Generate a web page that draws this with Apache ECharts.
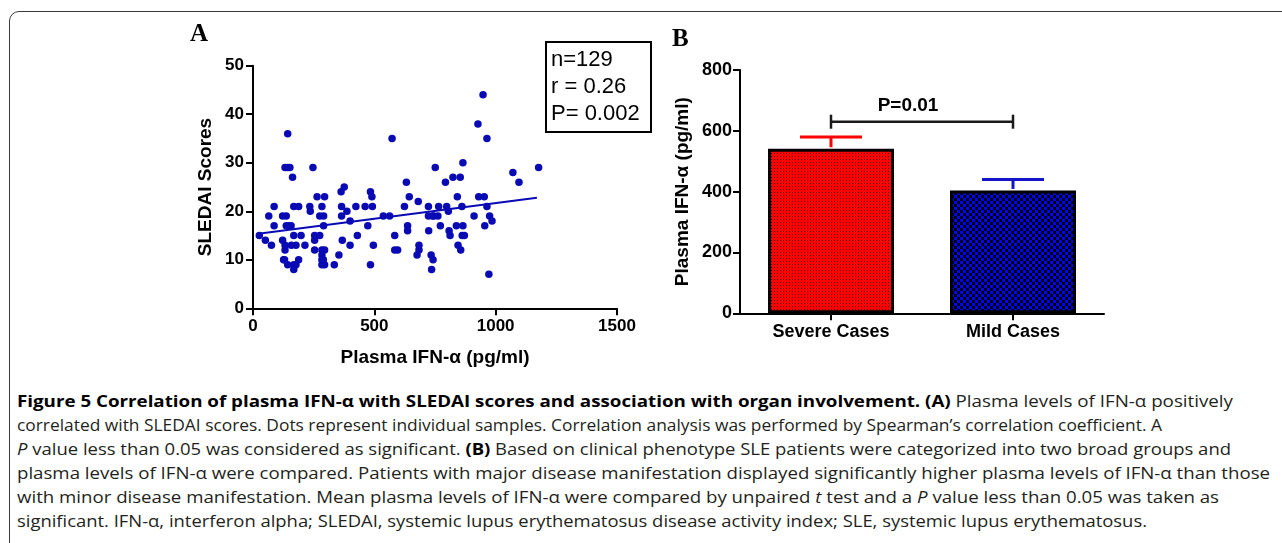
<!DOCTYPE html>
<html><head><meta charset="utf-8">
<script src="https://cdn.jsdelivr.net/npm/echarts@6/dist/echarts.min.js"></script>
<style>
html,body{margin:0;padding:0;background:#fff;width:1282px;height:543px;overflow:hidden;position:relative;}
#frame{position:absolute;left:9px;top:11px;width:1400px;height:700px;border:1.5px solid #3a3a3a;border-radius:10px;box-sizing:border-box;}
#chart{position:absolute;left:0;top:0;width:1282px;height:380px;}
#caption{position:absolute;left:17px;top:389px;font-family:"Open Sans",sans-serif;font-size:16px;line-height:24px;color:#231f20;white-space:nowrap;}
#caption .ln{transform-origin:0 0;width:max-content;}
#caption b{color:#000;}
</style></head>
<body>
<div id="frame"></div>
<div id="chart"></div>
<div id="caption">
<div class="ln"><b>Figure 5 Correlation of plasma IFN-α with SLEDAI scores and association with organ involvement. (A)</b> Plasma levels of IFN-α positively</div>
<div class="ln">correlated with SLEDAI scores. Dots represent individual samples. Correlation analysis was performed by Spearman’s correlation coefficient. A</div>
<div class="ln"><i>P</i> value less than 0.05 was considered as significant. <b>(B)</b> Based on clinical phenotype SLE patients were categorized into two broad groups and</div>
<div class="ln">plasma levels of IFN-α were compared. Patients with major disease manifestation displayed significantly higher plasma levels of IFN-α than those</div>
<div class="ln">with minor disease manifestation. Mean plasma levels of IFN-α were compared by unpaired <i>t</i> test and a <i>P</i> value less than 0.05 was taken as</div>
<div class="ln">significant. IFN-α, interferon alpha; SLEDAI, systemic lupus erythematosus disease activity index; SLE, systemic lupus erythematosus.</div>
</div>
<script>
// ---- Panel A data ----
const ifnValues = [26,51,65,76,87,87,122,137,122,132,132,126,143,143,132,152,143,137,147,157,163,168,188,168,168,168,177,177,188,198,214,234,236,247,254,254,254,264,275,275,284,284,284,284,284,295,291,291,295,295,335,354,363,376,365,365,368,387,400,400,424,430,462,473,484,490,492,484,496,537,563,573,584,584,596,624,632,637,637,644,681,684,676,684,723,724,723,734,742,736,751,745,762,765,772,793,798,805,808,812,824,838,842,845,854,856,861,862,865,865,871,911,927,930,948,953,955,964,964,975,985,972,1071,1096,1177,158,130,740,290];
const sledaiScores = [15,14,19,13,21,17,19,19,14,13,12,10,9,29,29,29,36,17,17,17,27,21,21,15,9,8,13,9,10,15,13,21,20,29,15,14,12,23,15,19,21,12,11,10,9,23,19,17,9,12,9,11,24,25,21,19,14,20,18,13,21,15,21,17,24,23,21,9,13,19,19,35,15,12,12,21,26,17,16,23,22,13,11,12,21,16,19,11,10,8,29,19,19,21,17,26,21,20,16,15,27,17,23,13,27,12,21,15,30,17,15,19,38,23,44,23,17,35,21,19,18,7,28,26,29,13,10,19,10];
const fitX = [30, 1170];
const fitY = [15.4, 22.8];
const statLines = ['n=129', 'r = 0.26', 'P= 0.002'];

// ---- Panel B data ----
const groups = ['Severe Cases', 'Mild Cases'];
const groupMeans = [541, 404];
const groupUpper = [580, 440];
const pLabel = 'P=0.01';
const bracketLevel = 630;

const FONT = 'Arial, "Liberation Sans", sans-serif';
const SERIF = '"Times New Roman", "Liberation Serif", serif';
const DOT = '#0a0ab4';
const RED = '#ff0000';
const BLUE = '#1414c8';

function dotTile(bg, fg, size, dot) {
  const cv = document.createElement('canvas');
  cv.width = cv.height = size;
  const ctx = cv.getContext('2d');
  ctx.fillStyle = bg; ctx.fillRect(0, 0, size, size);
  ctx.fillStyle = fg; ctx.fillRect(0, 0, dot, dot);
  return cv;
}
function checker(c1, c2, cell) {
  const cv = document.createElement('canvas');
  cv.width = cv.height = cell * 2;
  const ctx = cv.getContext('2d');
  ctx.fillStyle = c1; ctx.fillRect(0, 0, cell * 2, cell * 2);
  ctx.fillStyle = c2; ctx.fillRect(0, 0, cell, cell); ctx.fillRect(cell, cell, cell, cell);
  return cv;
}
const redPat = { image: dotTile('#ff0000', '#500000', 3, 1), repeat: 'repeat' };
const bluePat = { image: checker('#0000ff', '#000000', 3), repeat: 'repeat' };

const axisLineStyle = { show: true, lineStyle: { color: '#000', width: 2 } };
const tickStyle = { show: true, length: 7, lineStyle: { color: '#000', width: 2 } };
const plain = v => String(v);

const chart = echarts.init(document.getElementById('chart'), null, { renderer: 'canvas' });
chart.setOption({
  animation: false,
  backgroundColor: 'transparent',
  textStyle: { fontFamily: FONT },
  grid: [
    { left: 253, top: 65.7, width: 364, height: 242.6 },
    { left: 740, top: 70, width: 364, height: 243.3 }
  ],
  xAxis: [
    { type: 'value', gridIndex: 0, min: 0, max: 1500, interval: 500,
      axisLine: axisLineStyle, axisTick: tickStyle, splitLine: { show: false },
      axisLabel: { color: '#000', fontSize: 17, fontWeight: 'bold', margin: 10, fontFamily: FONT, formatter: plain },
      name: 'Plasma IFN-α (pg/ml)', nameLocation: 'middle', nameGap: 40,
      nameTextStyle: { color: '#000', fontSize: 19, fontWeight: 'bold', fontFamily: FONT } },
    { type: 'category', gridIndex: 1, data: groups,
      axisLine: axisLineStyle, axisTick: Object.assign({ alignWithLabel: true }, tickStyle),
      axisLabel: { color: '#000', fontSize: 18, fontWeight: 'bold', margin: 10, fontFamily: FONT } }
  ],
  yAxis: [
    { type: 'value', gridIndex: 0, min: 0, max: 50, interval: 10,
      axisLine: axisLineStyle, axisTick: tickStyle, splitLine: { show: false },
      axisLabel: { color: '#000', fontSize: 17, fontWeight: 'bold', margin: 9, fontFamily: FONT, formatter: plain },
      name: 'SLEDAI Scores', nameLocation: 'middle', nameGap: 38,
      nameTextStyle: { color: '#000', fontSize: 19, fontWeight: 'bold', fontFamily: FONT } },
    { type: 'value', gridIndex: 1, min: 0, max: 800, interval: 200,
      axisLine: axisLineStyle, axisTick: tickStyle, splitLine: { show: false },
      axisLabel: { color: '#000', fontSize: 18, fontWeight: 'bold', margin: 8, fontFamily: FONT, formatter: plain },
      name: 'Plasma IFN-α (pg/ml)', nameLocation: 'middle', nameGap: 48,
      nameTextStyle: { color: '#000', fontSize: 19, fontWeight: 'bold', fontFamily: FONT } }
  ],
  graphic: [
    { type: 'text', left: 190, top: 22, style: { text: 'A', font: 'bold 25px ' + SERIF, fill: '#000' } },
    { type: 'text', left: 672, top: 27, style: { text: 'B', font: 'bold 25px ' + SERIF, fill: '#000' } },
    { type: 'rect', shape: { x: 546, y: 42, width: 105, height: 90 }, style: { fill: 'none', stroke: '#000', lineWidth: 2 } },
    { type: 'text', x: 551, y: 60, style: { text: statLines[0], font: '22px ' + FONT, fill: '#000', verticalAlign: 'middle' } },
    { type: 'text', x: 551, y: 87, style: { text: statLines[1], font: '22px ' + FONT, fill: '#000', verticalAlign: 'middle' } },
    { type: 'text', x: 551, y: 114, style: { text: statLines[2], font: '22px ' + FONT, fill: '#000', verticalAlign: 'middle' } }
  ],
  series: [
    { type: 'scatter', xAxisIndex: 0, yAxisIndex: 0, symbolSize: 7.5,
      itemStyle: { color: DOT, opacity: 1 }, data: ifnValues.map((v, i) => [v, sledaiScores[i]]) },
    { type: 'line', xAxisIndex: 0, yAxisIndex: 0, symbol: 'none',
      lineStyle: { color: DOT, width: 2 }, data: fitX.map((v, i) => [v, fitY[i]]) },
    { type: 'bar', xAxisIndex: 1, yAxisIndex: 1, barWidth: 126,
      data: groupMeans.map((v, i) => ({ value: v, itemStyle: { color: i === 0 ? redPat : bluePat, borderColor: '#000', borderWidth: 3 } })) },
    { type: 'custom', xAxisIndex: 1, yAxisIndex: 1, z: 3,
      data: groupMeans.map((v, i) => [i, v, groupUpper[i]]),
      renderItem: function (params, api) {
        const i = api.value(0);
        const base = api.coord([i, api.value(1)]);
        const top = api.coord([i, api.value(2)]);
        const col = i === 0 ? RED : BLUE;
        const hw = 31;
        return { type: 'group', children: [
          { type: 'line', shape: { x1: base[0], y1: base[1] - 1.5, x2: top[0], y2: top[1] }, style: { stroke: col, lineWidth: 3 } },
          { type: 'line', shape: { x1: top[0] - hw, y1: top[1], x2: top[0] + hw, y2: top[1] }, style: { stroke: col, lineWidth: 3 } }
        ] };
      } },
    { type: 'custom', xAxisIndex: 1, yAxisIndex: 1, z: 3,
      data: [[0, 1, bracketLevel]],
      renderItem: function (params, api) {
        const a = api.coord([api.value(0), api.value(2)]);
        const b = api.coord([api.value(1), api.value(2)]);
        const s = { stroke: '#1a1a1a', lineWidth: 2.5 };
        return { type: 'group', children: [
          { type: 'line', shape: { x1: a[0], y1: a[1], x2: b[0], y2: b[1] }, style: s },
          { type: 'line', shape: { x1: a[0], y1: a[1] - 7, x2: a[0], y2: a[1] + 7 }, style: s },
          { type: 'line', shape: { x1: b[0], y1: b[1] - 7, x2: b[0], y2: b[1] + 7 }, style: s },
          { type: 'text', x: (a[0] + b[0]) / 2 - 14, y: a[1] - 16, style: { text: pLabel, font: 'bold 19px ' + FONT, fill: '#000', align: 'center', verticalAlign: 'middle' } }
        ] };
      } }
  ]
});

// fit caption lines to the reference line lengths
const captionTargets = [1216, 1145, 1214, 1253, 1202, 1130];
function fitCaption() {
  document.querySelectorAll('#caption .ln').forEach((el, i) => {
    el.style.transform = 'none';
    const w = el.getBoundingClientRect().width;
    if (w > 0) el.style.transform = 'scaleX(' + (captionTargets[i] / w) + ')';
  });
}
fitCaption();
if (document.fonts && document.fonts.ready) document.fonts.ready.then(fitCaption);
</script>
</body></html>
